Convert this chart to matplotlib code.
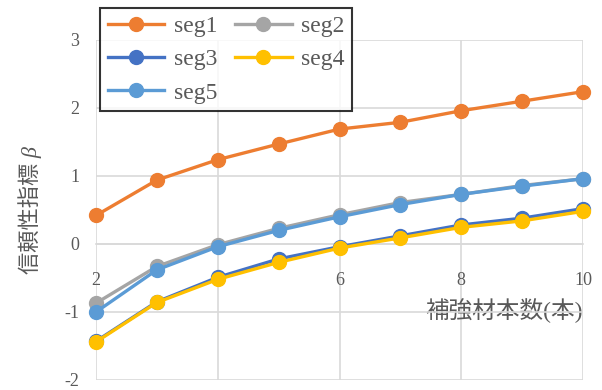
import numpy as np
import matplotlib
matplotlib.use('Agg')
import matplotlib.pyplot as plt

plt.rcParams['font.family'] = ['Liberation Serif', 'Noto Sans CJK JP']
plt.rcParams['axes.unicode_minus'] = False

# data
x = [2, 3, 4, 5, 6, 7, 8, 9, 10]
seg1 = [0.42, 0.94, 1.24, 1.47, 1.69, 1.79, 1.96, 2.10, 2.24]
seg2 = [-0.87, -0.33, -0.01, 0.23, 0.43, 0.61, 0.73, 0.86, 0.96]
seg3 = [-1.43, -0.85, -0.49, -0.22, -0.04, 0.12, 0.28, 0.38, 0.52]
seg4 = [-1.44, -0.86, -0.52, -0.27, -0.06, 0.09, 0.245, 0.34, 0.48]
seg5 = [-1.00, -0.38, -0.04, 0.20, 0.40, 0.58, 0.73, 0.85, 0.96]
names = ['seg1', 'seg2', 'seg3', 'seg4', 'seg5']
colors = ['#ED7D31', '#A5A5A5', '#4472C4', '#FFC000', '#5B9BD5']

txt = '#595959'
fig = plt.figure(figsize=(6.02, 3.90), dpi=100)
ax = fig.add_axes([96/602, 1-380/390, (583-96)/602, 340/390])

lines = []
for s, n, c in zip([seg1, seg2, seg3, seg4, seg5], names, colors):
    l, = ax.plot(x, s, color=c, linewidth=2.4, marker='o', markersize=10, label=n, clip_on=False, zorder=3)
    lines.append(l)

ax.set_xlim(2, 10)
ax.set_ylim(-2, 3)
ax.set_xticks([2, 4, 6, 8, 10])
ax.set_yticks([-2, -1, 0, 1, 2, 3])
ax.grid(True, color='#D9D9D9', linewidth=1.2)
ax.set_axisbelow(True)
for sp in ['top', 'right', 'left']:
    ax.spines[sp].set_visible(False)
ax.spines['bottom'].set_position(('data', 0))
ax.spines['bottom'].set_color('#D9D9D9')
ax.spines['bottom'].set_linewidth(1.2)
ax.tick_params(axis='x', length=0, pad=20, labelsize=13, labelcolor=txt)
ax.tick_params(axis='y', length=0, pad=12, labelsize=13, labelcolor=txt)

ax.set_xlabel('補強材本数(本)', fontsize=17, color=txt, ha='right')
ax.xaxis.set_label_coords(1.0, 0.24)
# italic style only affects beta; the CJK glyphs fall back to the upright face
ax.set_ylabel('信頼性指標 β', fontsize=16, color=txt, fontstyle='italic')
ax.yaxis.set_label_coords(-0.111, 0.5)

# row-wise order like the original legend
order = [0, 2, 4, 1, 3]
leg = fig.legend([lines[i] for i in order], [names[i] for i in order],
                 loc='upper left', bbox_to_anchor=(100/602, 1-8/390), ncol=2, fontsize=17,
                 frameon=True, fancybox=False, edgecolor='black', handlelength=2.4,
                 borderaxespad=0, columnspacing=0.75, handletextpad=0.4, labelspacing=0.5,
                 borderpad=0.32)
leg.get_frame().set_linewidth(1.5)
for t in leg.get_texts():
    t.set_color(txt)

fig.savefig('out.png', dpi=100)
